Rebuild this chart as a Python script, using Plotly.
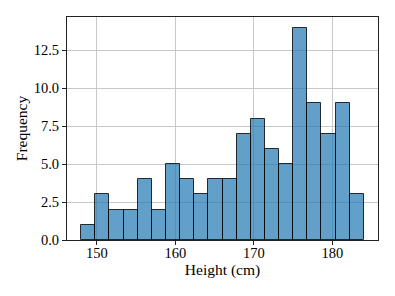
import plotly.graph_objects as go

bin_start = 148.0
bin_width = 1.8
counts = [1, 3, 2, 2, 4, 2, 5, 4, 3, 4, 4, 7, 8, 6, 5, 14, 9, 7, 9, 3]
x_ticks = [150, 160, 170, 180]
y_ticks = [0.0, 2.5, 5.0, 7.5, 10.0, 12.5]

centers = [bin_start + bin_width * (i + 0.5) for i in range(len(counts))]
x_lo = bin_start
x_hi = bin_start + bin_width * len(counts)
pad = 0.05 * (x_hi - x_lo)

fig = go.Figure(go.Bar(
    x=centers, y=counts, width=[bin_width] * len(counts),
    marker=dict(color="rgba(31,119,180,0.7)", line=dict(color="rgba(0,0,0,0.8)", width=1)),
))

font = dict(family="Liberation Serif, Times New Roman, serif", color="#000")
fig.update_layout(
    width=395, height=296,
    margin=dict(l=67, r=17, t=17, b=56),
    paper_bgcolor="white", plot_bgcolor="white",
    font=dict(size=14.5, **font),
    showlegend=False,
    bargap=0,
)
fig.update_xaxes(
    range=[x_lo - pad, x_hi + pad], tickvals=x_ticks,
    showgrid=True, gridcolor="#c8c8c8", gridwidth=0.8,
    showline=True, linecolor="#222", linewidth=1, mirror=True,
    ticks="outside", ticklen=4, tickcolor="#222",
    zeroline=False, automargin=False, ticklabelstandoff=-4,
    title=dict(text="Height (cm)", font=dict(size=15.5, **font), standoff=3),
    tickfont=dict(size=14.5, **font),
)
fig.update_yaxes(
    range=[0, max(counts) * 1.05], tickvals=y_ticks,
    ticktext=[f"{v:.1f}" for v in y_ticks],
    showgrid=True, gridcolor="#c8c8c8", gridwidth=0.8,
    showline=True, linecolor="#222", linewidth=1, mirror=True,
    ticks="outside", ticklen=4, tickcolor="#222",
    zeroline=False, automargin=False,
    title=dict(text="Frequency", font=dict(size=15.5, **font), standoff=2),
    tickfont=dict(size=14.5, **font),
)
fig.write_html("out.html", config={"displayModeBar": False},
               post_script="document.body.style.margin='0';")
